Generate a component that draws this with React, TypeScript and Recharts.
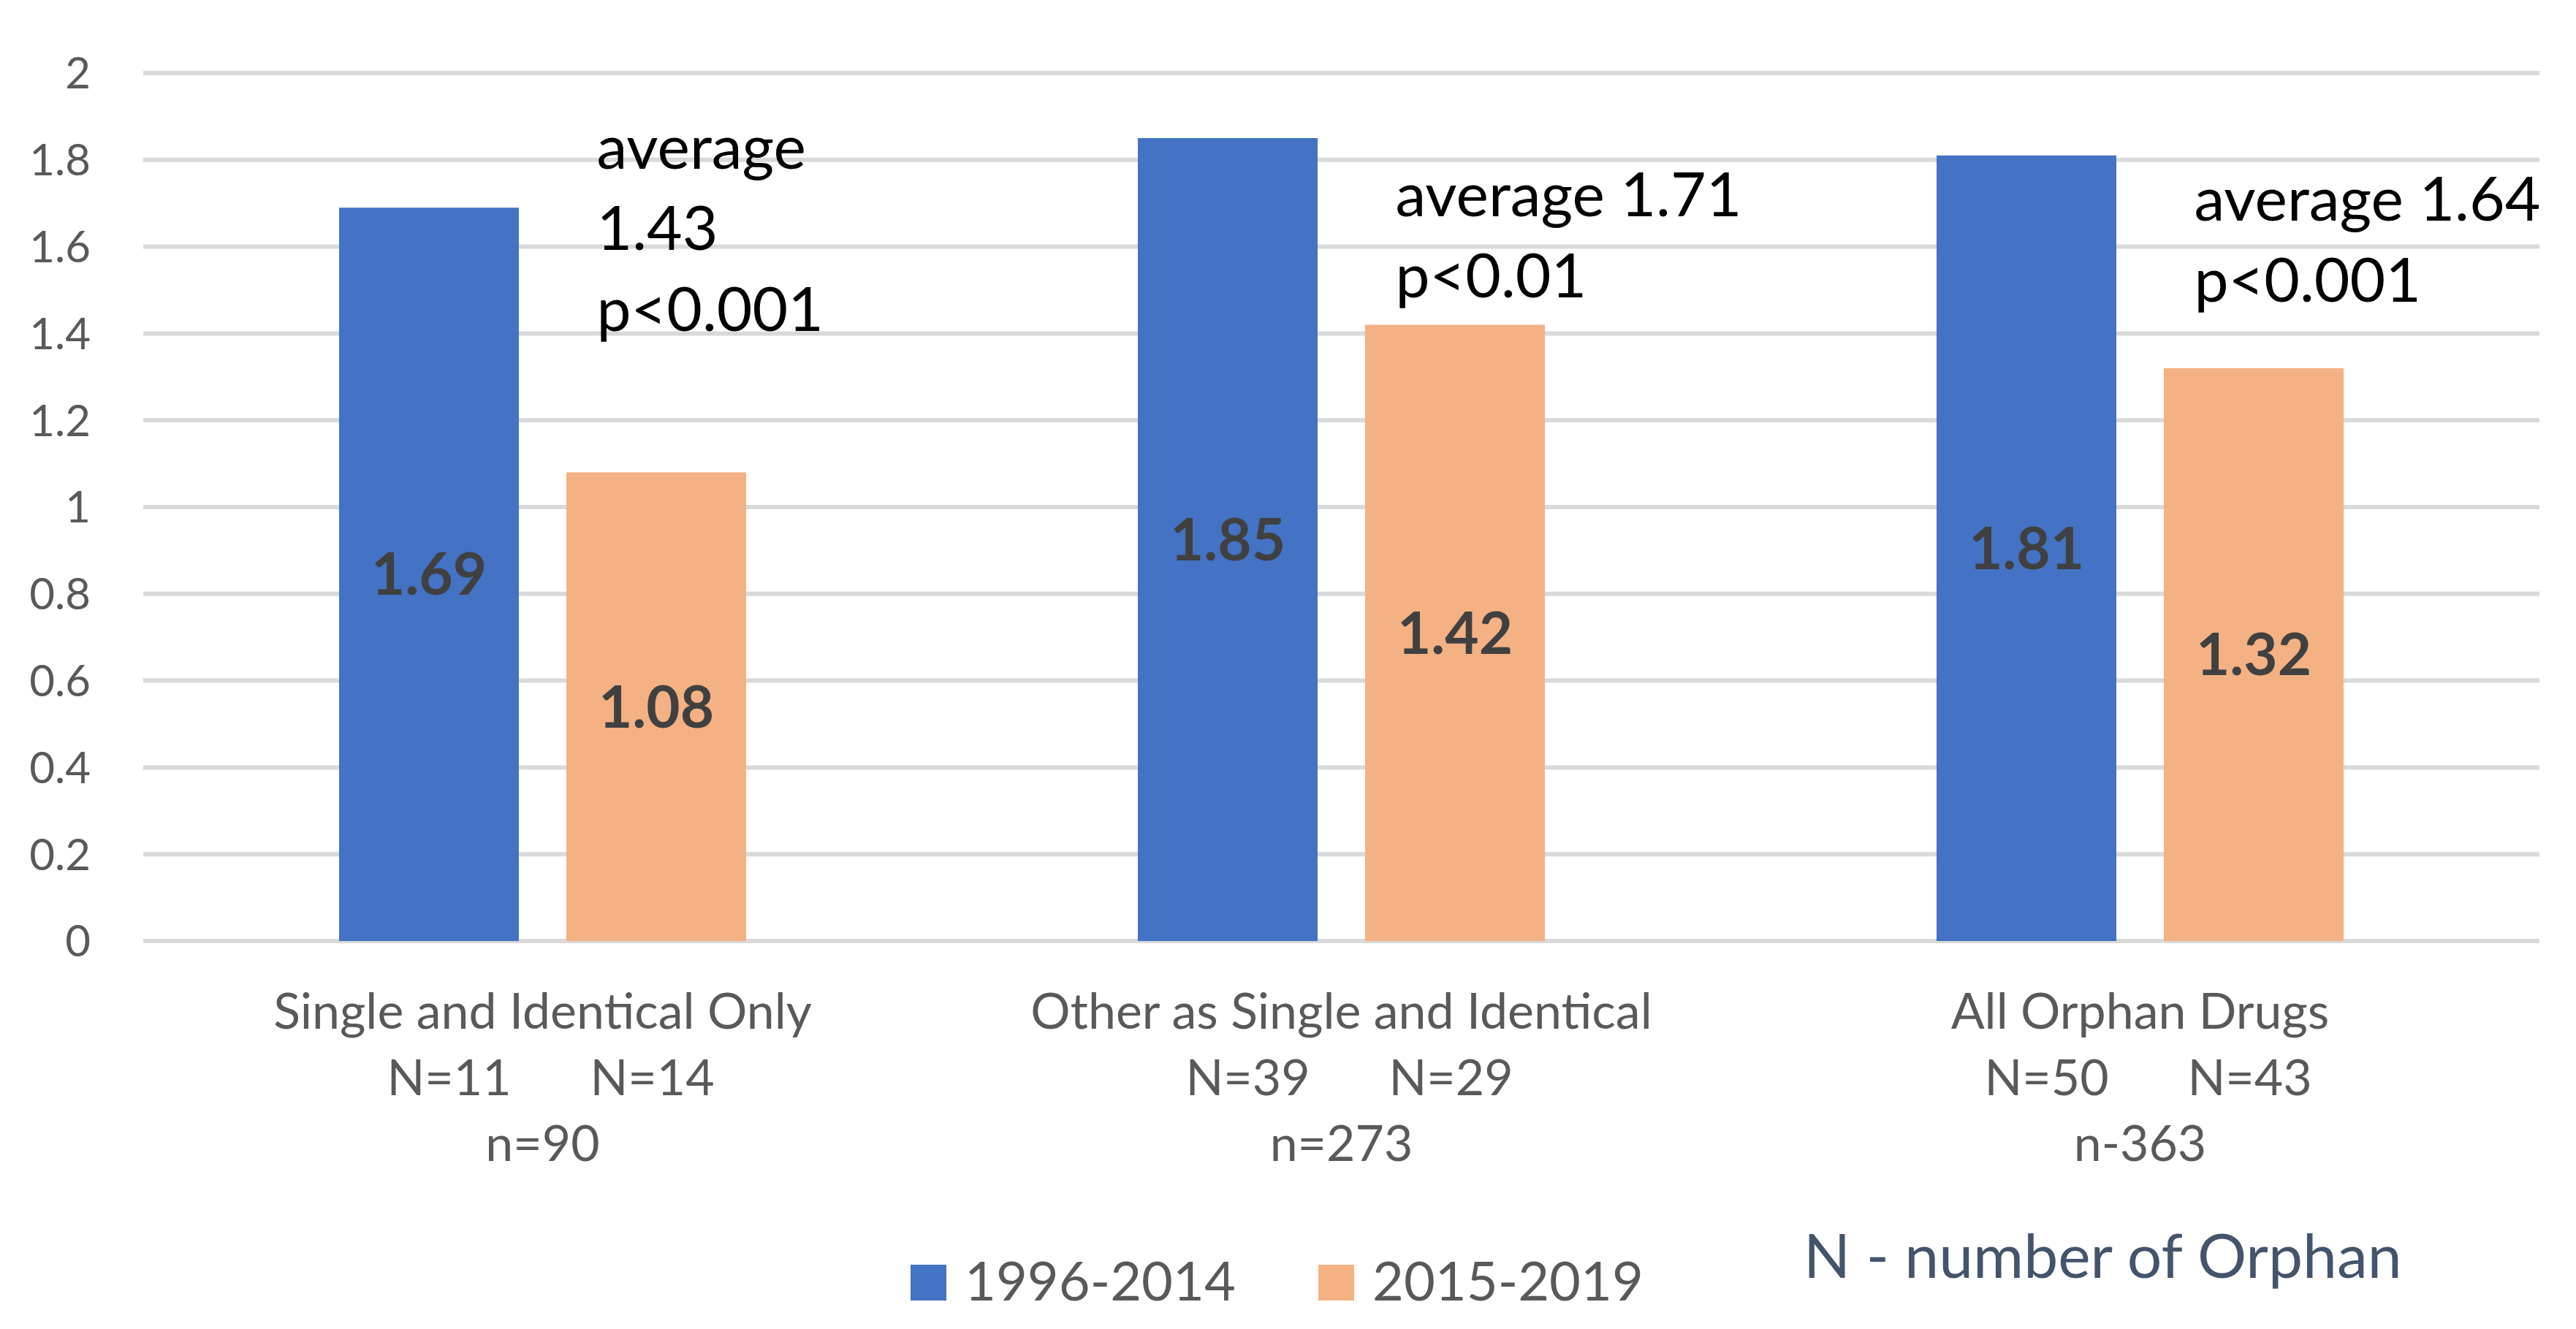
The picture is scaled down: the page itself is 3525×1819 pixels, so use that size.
import React from 'react';
import { BarChart, Bar, XAxis, YAxis, CartesianGrid, Legend, LabelList, ReferenceDot } from 'recharts';

const categories = ['Single and Identical Only', 'Other as Single and Identical', 'All Orphan Drugs'];
const early = [1.69, 1.85, 1.81]; // 1996-2014
const late = [1.08, 1.42, 1.32]; // 2015-2019
const earlyN = ['N=11', 'N=39', 'N=50'];
const lateN = ['N=14', 'N=29', 'N=43'];
const totals = ['n=90', 'n=273', 'n-363'];
const notes = [
    ['average', '1.43', 'p<0.001'],
    ['average 1.71', 'p<0.01'],
    ['average 1.64', 'p<0.001'],
];
// level (in axis units) of the first line of each note
const noteLevels = [1.78, 1.67, 1.66];
const yTicks = [0, 0.2, 0.4, 0.6, 0.8, 1, 1.2, 1.4, 1.6, 1.8, 2];

const data = categories.map((c, i) => ({ category: c, early: early[i], late: late[i] }));

const W = 3525;
const H = 1819;
const LEGEND_H = 140;
const FONT = 'Lato, "Open Sans", sans-serif';

const CategoryTick = (props: any) => {
    const { x, y, payload, index } = props;
    const i = index ?? categories.indexOf(payload.value);
    return (
        <g fill="#595959" fontSize={68} fontFamily={FONT}>
            <text x={x} y={y + 120} textAnchor="middle">{payload.value}</text>
            <text x={x - 128} y={y + 211} textAnchor="middle">{earlyN[i]}</text>
            <text x={x + 150} y={y + 211} textAnchor="middle">{lateN[i]}</text>
            <text x={x} y={y + 301} textAnchor="middle">{totals[i]}</text>
        </g>
    );
};

const NoteShape = (lines: string[]) => (p: any) => (
    <text x={p.cx + 74} y={p.cy} fontSize={84} fontFamily={FONT} fill="#000">
        {lines.map((l, k) => (
            <tspan key={k} x={p.cx + 74} dy={k === 0 ? 0 : 111}>{l}</tspan>
        ))}
    </text>
);

const LegendContent = (props: any) => {
    const items = props.payload || [];
    const starts = [1246, 1804];
    return (
        <svg width={W} height={LEGEND_H} style={{ display: 'block', overflow: 'visible' }}>
            {items.map((it: any, k: number) => (
                <g key={it.value}>
                    <rect x={starts[k]} y={52} width={49} height={49} fill={it.color} />
                    <text x={starts[k] + 74} y={101} fontSize={74} fill="#595959" fontFamily={FONT}>{it.value}</text>
                </g>
            ))}
            <text x={2468} y={70} fontSize={84} fill="#44546A" fontFamily={FONT}>N - number of Orphan</text>
        </svg>
    );
};

export default function App() {
    return (
        <div style={{ position: 'absolute', left: 0, top: 0, width: W, height: H, background: '#fff', fontFamily: FONT }}>
            <BarChart width={W} height={H} data={data} margin={{ top: 100, right: 50, bottom: 0, left: 0 }} barGap={65}>
                <CartesianGrid vertical={false} stroke="#D9D9D9" strokeWidth={6} />
                <XAxis dataKey="category" axisLine={false} tickLine={false} tickSize={0} tickMargin={0}
                    height={531 - LEGEND_H} interval={0} tick={<CategoryTick />} />
                <YAxis domain={[0, 2]} ticks={yTicks} axisLine={false} tickLine={false} tickSize={0} tickMargin={72}
                    width={196} tick={{ fill: '#595959', fontSize: 60, fontFamily: FONT }} interval={0} />
                <Legend verticalAlign="bottom" content={<LegendContent />} wrapperStyle={{ left: 0, width: W, height: LEGEND_H }} />
                <Bar dataKey="early" name="1996-2014" fill="#4472C4" barSize={246} isAnimationActive={false}>
                    <LabelList dataKey="early" position="center" fill="#404040" fontSize={80} fontWeight="bold" fontFamily={FONT} />
                </Bar>
                <Bar dataKey="late" name="2015-2019" fill="#F4B183" barSize={246} isAnimationActive={false}>
                    <LabelList dataKey="late" position="center" fill="#404040" fontSize={80} fontWeight="bold" fontFamily={FONT} />
                </Bar>
                {categories.map((c, i) => (
                    <ReferenceDot key={c} x={c} y={noteLevels[i]} r={0} shape={NoteShape(notes[i])} />
                ))}
            </BarChart>
        </div>
    );
}
